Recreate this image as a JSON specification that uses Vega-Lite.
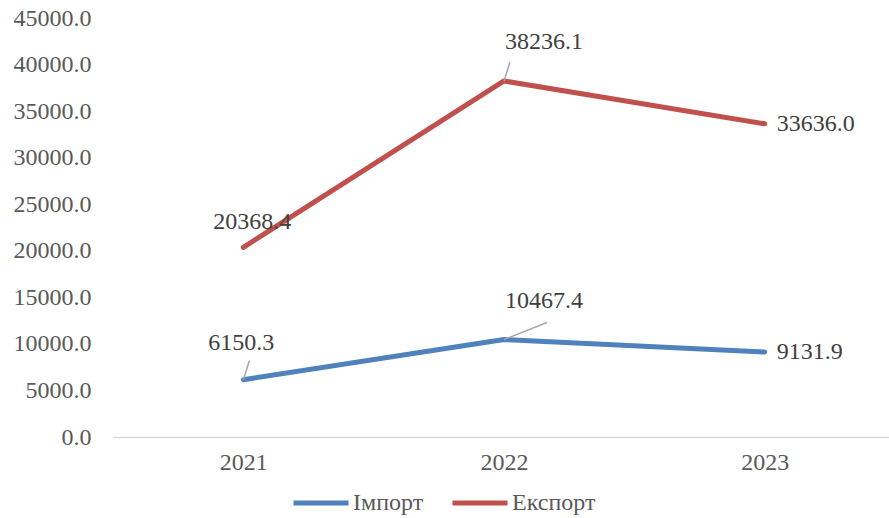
{
  "$schema": "https://vega.github.io/schema/vega-lite/v6.json",
  "autosize": {"type": "none"},
  "padding": {"left": 113, "top": 18, "right": 0, "bottom": 81},
  "width": 782,
  "height": 419,
  "background": "white",
  "config": {
    "view": {"stroke": null},
    "font": "'Liberation Serif', 'Times New Roman', serif",
    "text": {"font": "'Liberation Serif', 'Times New Roman', serif", "fontSize": 24, "color": "#404040"}
  },
  "data": {
    "values": [
      {"series": "Імпорт", "year": "2021", "value": 6150.3},
      {"series": "Імпорт", "year": "2022", "value": 10467.4},
      {"series": "Імпорт", "year": "2023", "value": 9131.9},
      {"series": "Експорт", "year": "2021", "value": 20368.4},
      {"series": "Експорт", "year": "2022", "value": 38236.1},
      {"series": "Експорт", "year": "2023", "value": 33636.0}
    ]
  },
  "encoding": {
    "x": {
      "field": "year", "type": "ordinal",
      "scale": {"type": "point", "padding": 0.5},
      "axis": {
        "title": null, "labelAngle": 0, "labelFont": "'Liberation Serif', 'Times New Roman', serif", "labelFontSize": 24,
        "labelColor": "#595959", "domainColor": "#D9D9D9", "domainWidth": 1.5, "ticks": false,
        "labelPadding": 13, "grid": false
      }
    },
    "y": {
      "field": "value", "type": "quantitative",
      "scale": {"domain": [0, 45000], "nice": false},
      "axis": {
        "title": null, "values": [0, 5000, 10000, 15000, 20000, 25000, 30000, 35000, 40000, 45000],
        "format": ".1f", "labelFont": "'Liberation Serif', 'Times New Roman', serif", "labelFontSize": 24, "labelColor": "#595959",
        "domain": false, "ticks": false, "grid": false, "labelPadding": 22
      }
    }
  },
  "layer": [
    {
      "mark": {"type": "line", "strokeWidth": 5, "strokeCap": "round", "strokeJoin": "round"},
      "encoding": {
        "color": {
          "field": "series", "type": "nominal",
          "scale": {"domain": ["Імпорт", "Експорт"], "range": ["#4F81BD", "#C0504D"]},
          "legend": {
            "title": null, "orient": "none", "legendX": 178, "legendY": 455, "direction": "horizontal",
            "symbolType": "stroke", "symbolSize": 3025, "symbolStrokeWidth": 5,
            "labelFont": "'Liberation Serif', 'Times New Roman', serif", "labelFontSize": 24, "labelColor": "#595959",
            "labelOffset": 2, "columnPadding": 18, "symbolOffset": 0
          }
        }
      }
    },
    {
      "transform": [{"filter": "(datum.series=='Експорт' && datum.year=='2022') || (datum.series=='Імпорт' && datum.year=='2021')"}],
      "mark": {"type": "rule", "color": "#A6A6A6", "strokeWidth": 1.5, "x2Offset": 6, "y2Offset": -19},
      "encoding": {"x2": {"field": "year"}, "y2": {"field": "value"}}
    },
    {
      "transform": [{"filter": "datum.series=='Імпорт' && datum.year=='2022'"}],
      "mark": {"type": "rule", "color": "#A6A6A6", "strokeWidth": 1.5, "x2Offset": 43, "y2Offset": -17},
      "encoding": {"x2": {"field": "year"}, "y2": {"field": "value"}}
    },
    {
      "transform": [{"filter": "datum.series=='Експорт' && datum.year=='2021'"}],
      "mark": {"type": "text", "dx": 9, "dy": -25},
      "encoding": {"text": {"field": "value", "type": "quantitative", "format": ".1f"}}
    },
    {
      "transform": [{"filter": "datum.year=='2022'"}],
      "mark": {"type": "text", "dx": 40, "dy": -39},
      "encoding": {"text": {"field": "value", "type": "quantitative", "format": ".1f"}}
    },
    {
      "transform": [{"filter": "datum.series=='Імпорт' && datum.year=='2021'"}],
      "mark": {"type": "text", "dx": -2, "dy": -37},
      "encoding": {"text": {"field": "value", "type": "quantitative", "format": ".1f"}}
    },
    {
      "transform": [{"filter": "datum.year=='2023'"}],
      "mark": {"type": "text", "align": "left", "dx": 12, "dy": 0},
      "encoding": {"text": {"field": "value", "type": "quantitative", "format": ".1f"}}
    }
  ]
}
